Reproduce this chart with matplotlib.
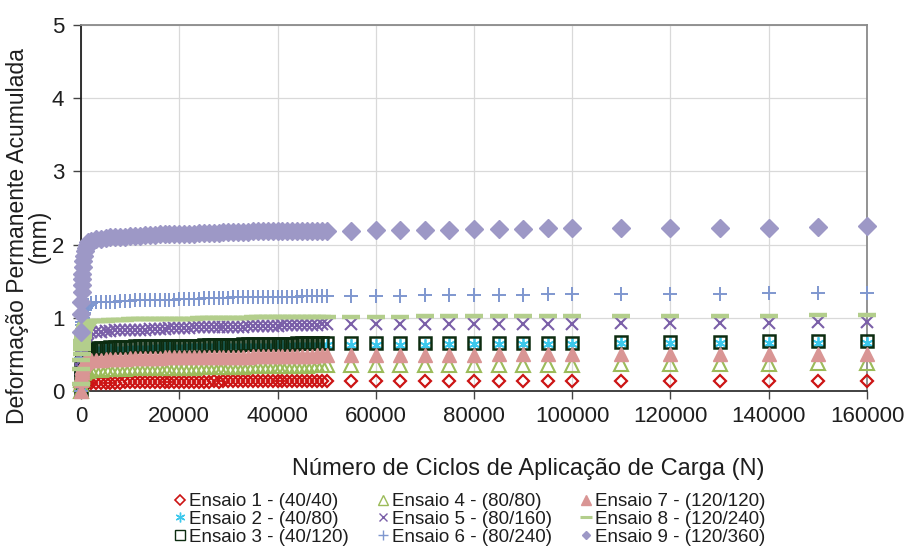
import matplotlib
matplotlib.use("Agg")
import matplotlib.pyplot as plt
from matplotlib.lines import Line2D

plt.rcParams['font.family'] = ['Liberation Sans', 'DejaVu Sans']

# ---------------- data ----------------
cycles_early = [0, 50, 100, 150, 200, 250, 300, 400, 500, 600, 750, 1000, 1250, 1500]
cycles_dense = [2000, 3000, 4000, 5000, 6000, 7000, 8000, 9000, 10000, 11000,
                12000, 13000, 14000, 15000, 16000, 17000, 18000, 19000, 20000, 21000,
                22000, 23000, 24000, 25000, 26000, 27000, 28000, 29000, 30000, 31000,
                32000, 33000, 34000, 35000, 36000, 37000, 38000, 39000, 40000, 41000,
                42000, 43000, 44000, 45000, 46000, 47000, 48000, 49000, 50000]
cycles_sparse = [55000, 60000, 65000, 70000, 75000, 80000, 85000, 90000, 95000, 100000,
                 110000, 120000, 130000, 140000, 150000, 160000]
cycles = cycles_early + cycles_dense + cycles_sparse

labels = ["Ensaio 1 - (40/40)", "Ensaio 2 - (40/80)", "Ensaio 3 - (40/120)",
          "Ensaio 4 - (80/80)", "Ensaio 5 - (80/160)", "Ensaio 6 - (80/240)",
          "Ensaio 7 - (120/120)", "Ensaio 8 - (120/240)", "Ensaio 9 - (120/360)"]

ensaio1 = ([0.00, 0.03, 0.05, 0.06, 0.07, 0.07, 0.08, 0.08, 0.09, 0.09, 0.10, 0.10, 0.10, 0.11] +
           [0.11, 0.11, 0.11, 0.11, 0.11, 0.11, 0.11, 0.12, 0.12, 0.12,
            0.12, 0.12, 0.12, 0.12, 0.12, 0.12, 0.12, 0.12, 0.12, 0.12,
            0.12, 0.12, 0.12, 0.12, 0.12, 0.13, 0.12, 0.13, 0.13, 0.13,
            0.13, 0.13, 0.13, 0.13, 0.13, 0.13, 0.13, 0.13, 0.13, 0.13,
            0.13, 0.13, 0.13, 0.13, 0.13, 0.13, 0.13, 0.13, 0.13] +
           [0.13, 0.13, 0.13, 0.13, 0.13, 0.13, 0.13, 0.13, 0.13, 0.13,
            0.13, 0.13, 0.14, 0.14, 0.14, 0.14])
ensaio2 = ([0.00, 0.15, 0.25, 0.30, 0.35, 0.38, 0.41, 0.44, 0.47, 0.49, 0.51, 0.53, 0.54, 0.55] +
           [0.56, 0.57, 0.57, 0.57, 0.58, 0.58, 0.58, 0.58, 0.59, 0.59,
            0.59, 0.59, 0.59, 0.60, 0.60, 0.60, 0.60, 0.60, 0.60, 0.60,
            0.61, 0.61, 0.61, 0.61, 0.61, 0.61, 0.61, 0.61, 0.61, 0.62,
            0.62, 0.62, 0.62, 0.62, 0.62, 0.62, 0.62, 0.62, 0.62, 0.62,
            0.62, 0.63, 0.63, 0.63, 0.63, 0.63, 0.63, 0.63, 0.63] +
           [0.63, 0.63, 0.63, 0.63, 0.64, 0.64, 0.64, 0.64, 0.64, 0.64,
            0.65, 0.65, 0.65, 0.66, 0.66, 0.66])
ensaio3 = ([0.00, 0.20, 0.30, 0.35, 0.40, 0.43, 0.45, 0.48, 0.50, 0.52, 0.54, 0.55, 0.56, 0.57] +
           [0.58, 0.59, 0.59, 0.59, 0.60, 0.60, 0.60, 0.60, 0.60, 0.61,
            0.61, 0.61, 0.61, 0.61, 0.61, 0.62, 0.62, 0.62, 0.62, 0.62,
            0.62, 0.62, 0.62, 0.63, 0.63, 0.63, 0.63, 0.63, 0.63, 0.63,
            0.63, 0.64, 0.64, 0.64, 0.64, 0.64, 0.64, 0.64, 0.64, 0.64,
            0.64, 0.64, 0.65, 0.65, 0.65, 0.65, 0.65, 0.65, 0.65] +
           [0.65, 0.65, 0.65, 0.66, 0.66, 0.66, 0.66, 0.66, 0.66, 0.66,
            0.67, 0.67, 0.67, 0.68, 0.68, 0.68])
ensaio4 = ([0.00, 0.10, 0.15, 0.17, 0.19, 0.21, 0.22, 0.24, 0.25, 0.26, 0.27, 0.27, 0.28, 0.28] +
           [0.29, 0.29, 0.29, 0.30, 0.30, 0.30, 0.30, 0.30, 0.31, 0.31,
            0.31, 0.31, 0.31, 0.31, 0.32, 0.32, 0.32, 0.32, 0.32, 0.32,
            0.32, 0.32, 0.33, 0.33, 0.33, 0.33, 0.33, 0.33, 0.33, 0.33,
            0.33, 0.33, 0.34, 0.34, 0.34, 0.34, 0.34, 0.34, 0.34, 0.34,
            0.34, 0.34, 0.34, 0.34, 0.34, 0.35, 0.35, 0.35, 0.35] +
           [0.35, 0.35, 0.35, 0.36, 0.36, 0.36, 0.36, 0.36, 0.36, 0.36,
            0.37, 0.37, 0.37, 0.37, 0.38, 0.38])
ensaio5 = ([0.00, 0.30, 0.42, 0.50, 0.56, 0.60, 0.63, 0.67, 0.70, 0.72, 0.74, 0.76, 0.78, 0.79] +
           [0.80, 0.81, 0.81, 0.82, 0.82, 0.83, 0.83, 0.83, 0.84, 0.84,
            0.84, 0.84, 0.85, 0.85, 0.85, 0.85, 0.86, 0.86, 0.86, 0.86,
            0.86, 0.87, 0.87, 0.87, 0.87, 0.87, 0.88, 0.88, 0.88, 0.88,
            0.88, 0.88, 0.89, 0.89, 0.89, 0.89, 0.89, 0.89, 0.89, 0.90,
            0.90, 0.90, 0.90, 0.90, 0.90, 0.90, 0.90, 0.91, 0.91] +
           [0.91, 0.91, 0.91, 0.91, 0.92, 0.92, 0.92, 0.92, 0.92, 0.92,
            0.93, 0.93, 0.93, 0.93, 0.94, 0.94])
ensaio6 = ([0.00, 0.45, 0.65, 0.76, 0.84, 0.90, 0.94, 1.00, 1.04, 1.07, 1.10, 1.13, 1.16, 1.18] +
           [1.20, 1.21, 1.21, 1.22, 1.22, 1.22, 1.23, 1.23, 1.23, 1.24,
            1.24, 1.24, 1.24, 1.25, 1.25, 1.25, 1.25, 1.25, 1.26, 1.26,
            1.26, 1.26, 1.26, 1.27, 1.27, 1.27, 1.27, 1.27, 1.27, 1.28,
            1.28, 1.28, 1.28, 1.28, 1.28, 1.28, 1.29, 1.29, 1.29, 1.29,
            1.29, 1.29, 1.29, 1.30, 1.30, 1.30, 1.30, 1.30, 1.30] +
           [1.30, 1.30, 1.30, 1.31, 1.31, 1.31, 1.31, 1.31, 1.32, 1.32,
            1.32, 1.33, 1.33, 1.34, 1.34, 1.34])
ensaio7 = ([0.00, 0.15, 0.22, 0.26, 0.29, 0.31, 0.33, 0.35, 0.37, 0.38, 0.40, 0.41, 0.42, 0.42] +
           [0.43, 0.43, 0.43, 0.44, 0.44, 0.44, 0.44, 0.44, 0.45, 0.45,
            0.45, 0.45, 0.45, 0.45, 0.45, 0.46, 0.46, 0.46, 0.46, 0.46,
            0.46, 0.46, 0.46, 0.47, 0.47, 0.47, 0.47, 0.47, 0.47, 0.47,
            0.47, 0.47, 0.47, 0.48, 0.48, 0.48, 0.48, 0.48, 0.48, 0.48,
            0.48, 0.48, 0.48, 0.48, 0.48, 0.48, 0.49, 0.49, 0.49] +
           [0.49, 0.49, 0.49, 0.49, 0.49, 0.49, 0.50, 0.50, 0.50, 0.50,
            0.50, 0.50, 0.51, 0.51, 0.51, 0.51])
ensaio8 = ([0.10, 0.30, 0.42, 0.50, 0.57, 0.63, 0.68, 0.74, 0.79, 0.83, 0.87, 0.90, 0.92, 0.94] +
           [0.95, 0.96, 0.96, 0.96, 0.97, 0.97, 0.97, 0.97, 0.98, 0.98,
            0.98, 0.98, 0.98, 0.98, 0.99, 0.99, 0.99, 0.99, 0.99, 0.99,
            0.99, 0.99, 1.00, 1.00, 1.00, 1.00, 1.00, 1.00, 1.00, 1.00,
            1.00, 1.00, 1.00, 1.01, 1.01, 1.01, 1.01, 1.01, 1.01, 1.01,
            1.01, 1.01, 1.01, 1.01, 1.01, 1.01, 1.01, 1.01, 1.01] +
           [1.01, 1.01, 1.01, 1.02, 1.02, 1.02, 1.02, 1.02, 1.02, 1.02,
            1.03, 1.03, 1.03, 1.03, 1.04, 1.04])
ensaio9 = ([0.80, 1.05, 1.22, 1.35, 1.45, 1.53, 1.60, 1.70, 1.78, 1.85, 1.91, 1.96, 2.00, 2.03] +
           [2.05, 2.07, 2.08, 2.09, 2.10, 2.10, 2.11, 2.11, 2.12, 2.12,
            2.12, 2.13, 2.13, 2.13, 2.14, 2.14, 2.14, 2.14, 2.15, 2.15,
            2.15, 2.15, 2.16, 2.16, 2.16, 2.16, 2.16, 2.17, 2.17, 2.17,
            2.17, 2.17, 2.17, 2.18, 2.18, 2.18, 2.18, 2.18, 2.18, 2.18,
            2.18, 2.19, 2.19, 2.19, 2.19, 2.19, 2.19, 2.19, 2.19] +
           [2.19, 2.20, 2.20, 2.20, 2.20, 2.21, 2.21, 2.21, 2.22, 2.22,
            2.22, 2.23, 2.23, 2.23, 2.24, 2.25])

series = [ensaio1, ensaio2, ensaio3, ensaio4, ensaio5, ensaio6, ensaio7, ensaio8, ensaio9]

x_ticks = [0, 20000, 40000, 60000, 80000, 100000, 120000, 140000, 160000]
y_ticks = [0, 1, 2, 3, 4, 5]

# ---------------- styles ----------------
styles = [
    dict(marker='D', ms=6.0, mfc='none', mec='#CC1414', mew=1.6),
    dict(marker=(6, 2, 0), ms=9.0, mfc='none', mec='#3CC8EC', mew=1.3),
    dict(marker='s', ms=8.0, mfc='none', mec='#0C2C10', mew=1.8),
    dict(marker='^', ms=9.5, mfc='none', mec='#9BBB59', mew=1.5),
    dict(marker='x', ms=8.5, mfc='none', mec='#7A5FA8', mew=1.5),
    dict(marker='+', ms=10.5, mfc='none', mec='#7F97CF', mew=1.4),
    dict(marker='^', ms=10.0, mfc='#D99594', mec='#D99594', mew=1.0),
    dict(marker='_', ms=13.5, mfc='none', mec='#B3CE8C', mew=3.2),
    dict(marker='D', ms=9.0, mfc='#9D98C6', mec='#9D98C6', mew=1.0),
]
legend_ms = [5.0, 7.0, 6.5, 7.0, 6.0, 7.0, 7.0, 8.5, 4.5]
legend_mew = [1.2, 1.0, 1.0, 1.0, 1.0, 1.0, 1.0, 2.2, 1.0]

W, H = 908, 559
fig = plt.figure(figsize=(W / 100, H / 100), dpi=100)
ax = fig.add_axes([81 / W, 1 - 391 / H, (867 - 81) / W, (391 - 25) / H])

for vals, st, lab in zip(series, styles, labels):
    ax.plot(cycles, vals, ls='none', clip_on=False, zorder=3, label=lab, **st)

ax.set_xlim(0, 160000)
ax.set_ylim(0, 5)
ax.set_xticks(x_ticks)
ax.set_yticks(y_ticks)
ax.set_xticklabels([str(v) for v in x_ticks])
ax.grid(True, color='#D9D9D9', lw=0.9, zorder=0)
ax.set_axisbelow(True)

for s in ['top', 'right']:
    ax.spines[s].set_color('#8A8A8A')
    ax.spines[s].set_linewidth(1.3)
ax.spines['left'].set_color('#222222')
ax.spines['bottom'].set_color('#333333')
ax.spines['left'].set_linewidth(1.3)
ax.spines['bottom'].set_linewidth(1.3)

ax.tick_params(axis='both', direction='out', length=6, width=1.0, color='#444444',
               labelsize=16, labelcolor='#1E1E1E')
ax.tick_params(axis='x', pad=5)
ax.tick_params(axis='y', pad=6)

ax.set_xlabel('Número de Ciclos de Aplicação de Carga (N)', fontsize=17, color='#1E1E1E')
ax.xaxis.set_label_coords((528 - 81) / 786, (391 - 458) / 366)
ax.set_ylabel('Deformação Permanente Acumulada\n(mm)', fontsize=16.5, color='#1E1E1E',
              linespacing=0.95)
ax.yaxis.set_label_coords((51 - 81) / 786, (391 - 236) / 366)

handles = []
for st, lms, lmew in zip(styles, legend_ms, legend_mew):
    d = dict(st)
    d['ms'] = lms
    d['mew'] = lmew
    handles.append(Line2D([], [], ls='none', **d))

fig.legend(handles, labels, ncol=3, loc='upper center',
           bbox_to_anchor=(470 / W, 1 - 484 / H), frameon=False,
           fontsize=13.5, handlelength=0.6, handletextpad=0.2,
           columnspacing=1.5, labelspacing=0.02, borderpad=0.0,
           labelcolor='#1E1E1E')

fig.savefig('out.png', dpi=100)
